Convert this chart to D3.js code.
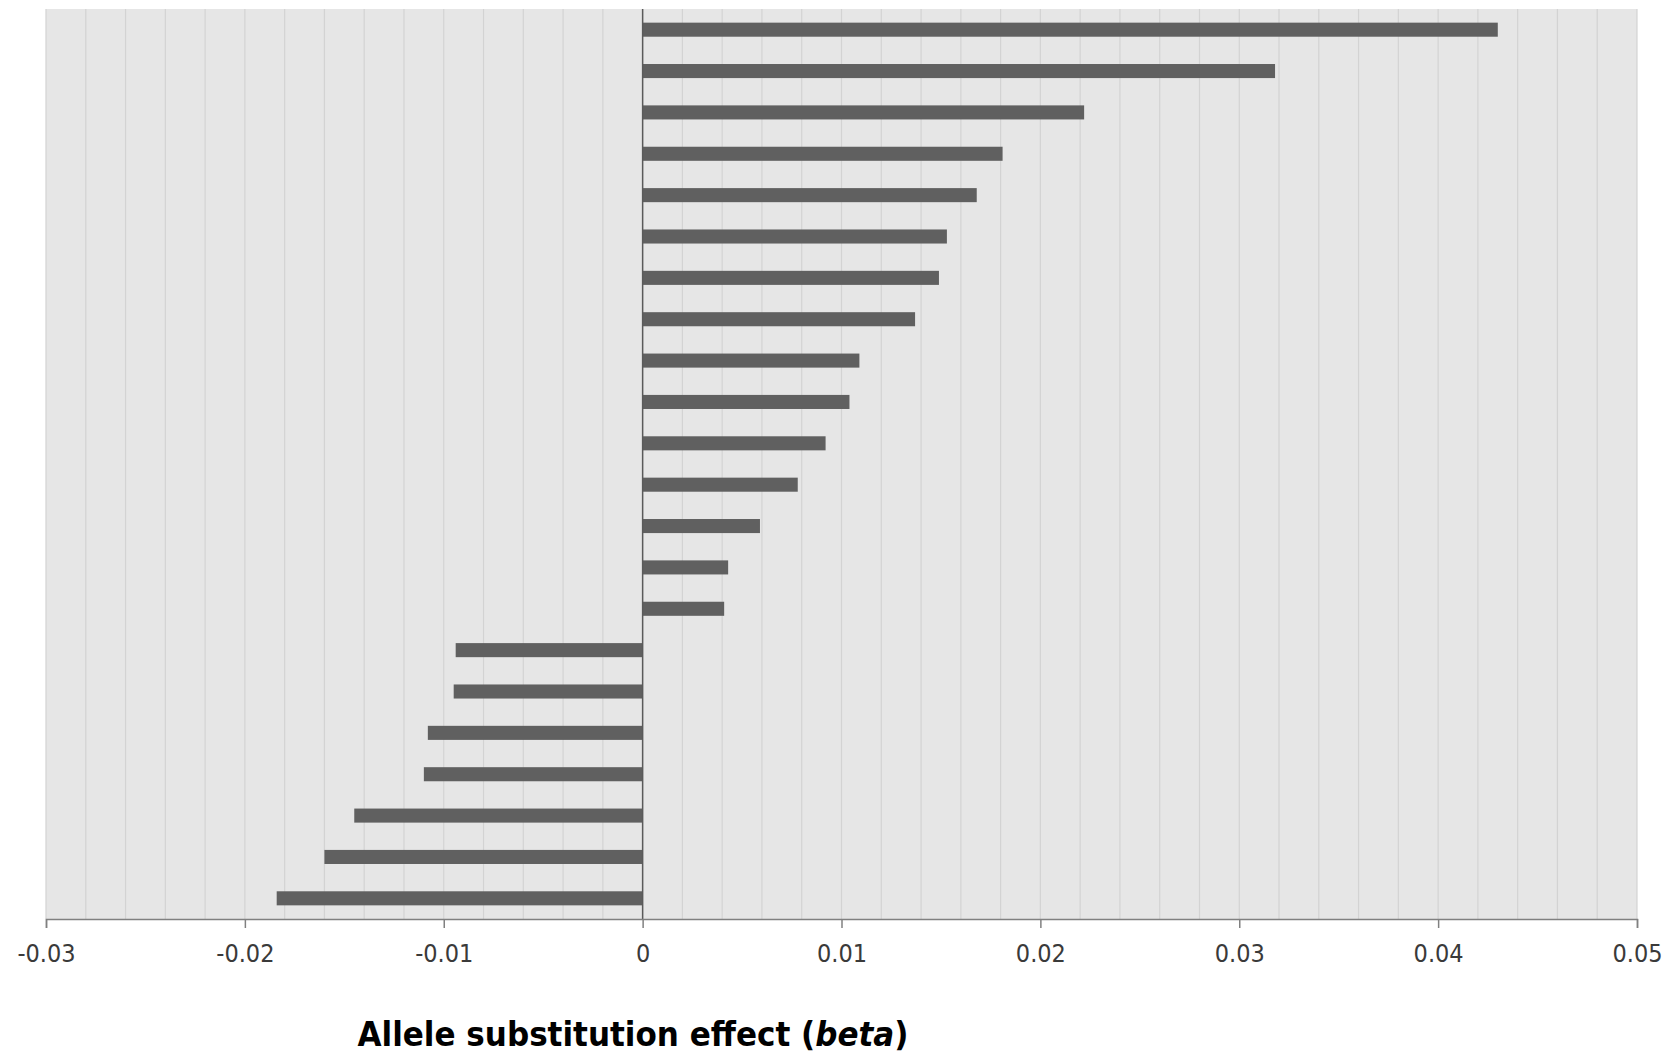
<!DOCTYPE html>
<html>
<head>
<meta charset="utf-8">
<script src="https://cdn.jsdelivr.net/npm/d3@7"></script>
<style>
  html, body { margin: 0; padding: 0; background: #fff; }
  svg { display: block; }
</style>
</head>
<body>
<svg id="chart" width="1670" height="1053"></svg>
<script>
// one bar per marker, top to bottom
const markers = ["m1", "m2", "m3", "m4", "m5", "m6", "m7", "m8", "m9", "m10", "m11",
                 "m12", "m13", "m14", "m15", "m16", "m17", "m18", "m19", "m20", "m21", "m22"];
const beta = [0.0430, 0.0318, 0.0222, 0.0181, 0.0168, 0.0153, 0.0149, 0.0137, 0.0109, 0.0104, 0.0092,
              0.0078, 0.0059, 0.0043, 0.0041, -0.0094, -0.0095, -0.0108, -0.0110, -0.0145, -0.0160, -0.0184];
const xTicks = [-0.03, -0.02, -0.01, 0, 0.01, 0.02, 0.03, 0.04, 0.05];
const gridStep = 0.002;
const xTitle = "Allele substitution effect (";
const xTitleItalic = "beta";

const svg = d3.select("#chart");
const margin = { top: 9, left: 46, right: 33, bottom: 134 };
const width = 1670 - margin.left - margin.right,
      height = 1053 - margin.top - margin.bottom;

const x = d3.scaleLinear().domain([-0.03, 0.05]).range([0, width]);
const y = d3.scaleBand().domain(markers).range([0, height]).paddingInner(0.66).paddingOuter(0.33);

const g = svg.append("g").attr("transform", `translate(${margin.left},${margin.top})`);

// plot background
g.append("rect")
    .attr("width", width)
    .attr("height", height)
    .attr("fill", "#e6e6e6");

// light vertical grid
const gridVals = d3.range(-0.03, 0.0500001, gridStep);
g.append("g")
    .selectAll("line")
    .data(gridVals)
    .join("line")
    .attr("x1", d => x(d)).attr("x2", d => x(d))
    .attr("y1", 0).attr("y2", height)
    .attr("stroke", "#d3d3d3")
    .attr("stroke-width", 1.2);

// bars
g.append("g")
    .selectAll("rect")
    .data(beta)
    .join("rect")
    .attr("x", d => x(Math.min(0, d)))
    .attr("width", d => Math.abs(x(d) - x(0)))
    .attr("y", (d, i) => y(markers[i]))
    .attr("height", y.bandwidth())
    .attr("fill", "#606060");

// zero line
g.append("line")
    .attr("x1", x(0)).attr("x2", x(0))
    .attr("y1", 0).attr("y2", height)
    .attr("stroke", "#5a5a5a")
    .attr("stroke-width", 1.5);

// x axis
const xAxis = d3.axisBottom(x)
    .tickValues(xTicks)
    .tickSize(9)
    .tickPadding(16)
    .tickFormat(d => d === 0 ? "0" : String(d).replace("\u2212", "-"));

const ax = g.append("g")
    .attr("transform", `translate(0,${height})`)
    .call(xAxis);
ax.select(".domain").attr("stroke", "#808080").attr("stroke-width", 1.5);
ax.selectAll(".tick line").attr("stroke", "#808080").attr("stroke-width", 1.5);
ax.selectAll(".tick text")
    .attr("fill", "#3a3a3a")
    .style("font-family", "'DejaVu Sans Condensed', 'DejaVu Sans', sans-serif")
    .style("font-stretch", "condensed")
    .style("font-size", "25px");

// axis title
const title = svg.append("text")
    .attr("x", 633)
    .attr("y", 1046)
    .attr("text-anchor", "middle")
    .style("font-family", "'DejaVu Sans Condensed', 'DejaVu Sans', sans-serif")
    .style("font-stretch", "condensed")
    .style("font-weight", "bold")
    .style("font-size", "34.5px")
    .attr("fill", "#000");
title.append("tspan").text(xTitle);
title.append("tspan").style("font-style", "italic").text(xTitleItalic);
title.append("tspan").text(")");
</script>
</body>
</html>
